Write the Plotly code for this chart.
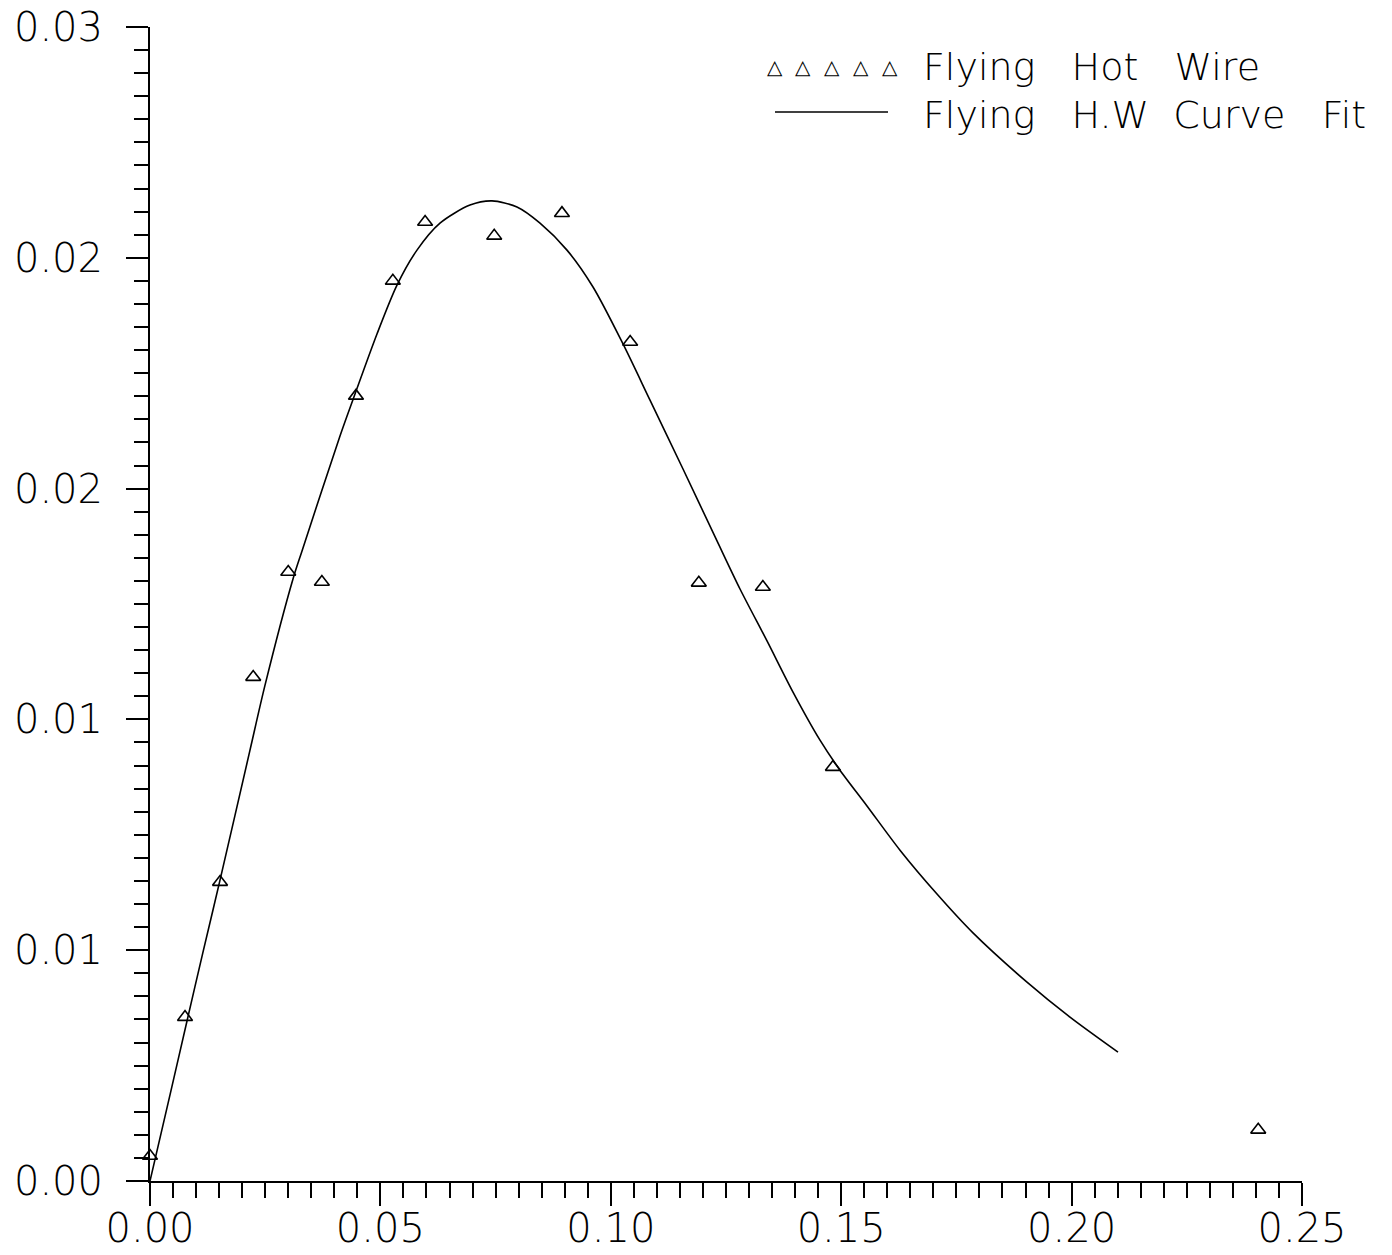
import plotly.graph_objects as go

# Measured points (Flying Hot Wire)
meas_x = [0.0, 0.0076, 0.0152, 0.0224, 0.0300, 0.0373, 0.0447, 0.0527, 0.0597,
          0.0747, 0.0894, 0.1042, 0.1191, 0.1330, 0.1482, 0.2405]
meas_y = [0.00065, 0.00426, 0.00777, 0.01310, 0.01583, 0.01557, 0.02041, 0.02340,
          0.02493, 0.02457, 0.02516, 0.02181, 0.01555, 0.01544, 0.01076, 0.00133]

# Curve fit
fit_x = [0.0, 0.00434, 0.00803, 0.01150, 0.01519, 0.02170, 0.02496, 0.03103, 0.03299,
         0.04123, 0.04449, 0.04926, 0.05360, 0.05794, 0.06293, 0.06944, 0.07422,
         0.07964, 0.08464, 0.09049, 0.09614, 0.10265, 0.10851, 0.11567, 0.12305,
         0.12804, 0.13390, 0.13954, 0.14540, 0.14974, 0.15560, 0.16276,
         0.17079, 0.17860, 0.19032, 0.19965, 0.21007]
fit_y = [0.0, 0.00224, 0.00416, 0.00595, 0.00782, 0.01120, 0.01289, 0.01565, 0.01638,
         0.01937, 0.02046, 0.02202, 0.02329, 0.02420, 0.02490, 0.02537, 0.02548,
         0.02532, 0.02490, 0.02420, 0.02324, 0.02176, 0.02030, 0.01851, 0.01664,
         0.01539, 0.01404, 0.01271, 0.01146, 0.01068, 0.00975, 0.00860,
         0.00746, 0.00645, 0.00517, 0.00426, 0.00335]

y_tickvals = [0.0, 0.006, 0.012, 0.018, 0.024, 0.030]
y_ticktext = ["0.00", "0.01", "0.01", "0.02", "0.02", "0.03"]
x_tickvals = [0.0, 0.05, 0.10, 0.15, 0.20, 0.25]
x_ticktext = ["0.00", "0.05", "0.10", "0.15", "0.20", "0.25"]

legend_names = ["Flying\u00a0\u00a0\u00a0Hot\u00a0\u00a0\u00a0Wire",
                "Flying\u00a0\u00a0\u00a0H.W\u00a0\u00a0Curve\u00a0\u00a0\u00a0Fit"]

FONT = "DejaVu Sans"

fig = go.Figure()
fig.add_trace(go.Scatter(x=fit_x, y=fit_y, mode="lines",
                         line=dict(color="black", width=1.6, shape="spline", smoothing=0.8),
                         name=legend_names[1], showlegend=False))
fig.add_trace(go.Scatter(x=meas_x, y=meas_y, mode="markers",
                         marker=dict(symbol="triangle-up-open", size=13,
                                     color="black", line=dict(width=1.6, color="black")),
                         name=legend_names[0], showlegend=False, cliponaxis=False))

axis_common = dict(showgrid=False, zeroline=False, showline=True, linecolor="black",
                   linewidth=2, ticks="outside", tickcolor="black", tickwidth=2,
                   automargin=False,
                   tickfont=dict(family=FONT, size=40, color="black", weight=200))

fig.update_xaxes(range=[0, 0.25], tickvals=x_tickvals, ticktext=x_ticktext,
                 ticklen=23, ticklabelstandoff=-12,
                 minor=dict(dtick=0.005, tick0=0, ticks="outside", ticklen=15,
                            tickwidth=2, tickcolor="black"),
                 **axis_common)
fig.update_yaxes(range=[0, 0.03], tickvals=y_tickvals, ticktext=y_ticktext,
                 ticklen=22, ticklabelstandoff=15,
                 minor=dict(dtick=0.0006, tick0=0, ticks="outside", ticklen=14,
                            tickwidth=2, tickcolor="black"),
                 **axis_common)

# Legend drawn as annotations / shapes in paper coordinates
W = 1152.0
H = 1154.0
def px(xp):
    return (xp - 150) / W
def py(yp):
    return (1181 - yp) / H

annotations = []
for cx in [775, 803, 832, 861, 890]:
    annotations.append(dict(xref="paper", yref="paper", x=px(cx), y=py(67),
                            text="\u25b3", showarrow=False, xanchor="center",
                            yanchor="middle",
                            font=dict(family=FONT, size=20, color="black")))
annotations.append(dict(xref="paper", yref="paper", x=px(921), y=py(67),
                        text=legend_names[0], showarrow=False, xanchor="left",
                        yanchor="middle",
                        font=dict(family=FONT, size=38, color="black", weight=200)))
annotations.append(dict(xref="paper", yref="paper", x=px(921), y=py(115),
                        text=legend_names[1], showarrow=False, xanchor="left",
                        yanchor="middle",
                        font=dict(family=FONT, size=38, color="black", weight=200)))

shapes = [dict(type="line", xref="paper", yref="paper", x0=px(775), x1=px(888),
               y0=py(112), y1=py(112), line=dict(color="black", width=1.6))]

fig.update_layout(width=1392, height=1255, autosize=False,
                  margin=dict(l=150, r=90, t=27, b=74),
                  paper_bgcolor="white", plot_bgcolor="white",
                  showlegend=False, annotations=annotations, shapes=shapes)

fig.write_html("out.html")
